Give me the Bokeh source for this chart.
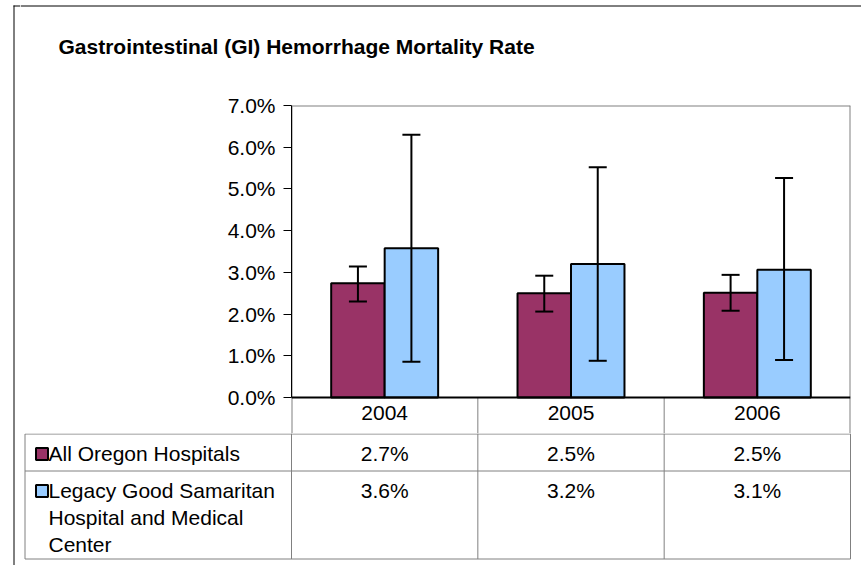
from bokeh.plotting import figure
from bokeh.layouts import row, column
from bokeh.models import Range1d, FactorRange, FixedTicker, NumeralTickFormatter, ColumnDataSource
from bokeh.transform import dodge
from bokeh.core.properties import value
from bokeh.embed import file_html
from bokeh.resources import INLINE

# ---------------- data ----------------
TITLE = "Gastrointestinal (GI) Hemorrhage Mortality Rate"
YEARS = ["2004", "2005", "2006"]
SERIES = ["All Oregon Hospitals", "Legacy Good Samaritan Hospital and Medical Center"]
SERIES_LINES = [["All Oregon Hospitals"],
                ["Legacy Good Samaritan", "Hospital and Medical", "Center"]]
OREGON_RATE = [0.0274, 0.0250, 0.0251]
OREGON_LOW = [0.0230, 0.0206, 0.0208]
OREGON_HIGH = [0.0314, 0.0292, 0.0294]
LEGACY_RATE = [0.0358, 0.0320, 0.0306]
LEGACY_LOW = [0.0086, 0.0088, 0.0090]
LEGACY_HIGH = [0.0630, 0.0552, 0.0526]
Y_TICKS = [0.0, 0.01, 0.02, 0.03, 0.04, 0.05, 0.06, 0.07]
SERIES_COLORS = ["#993366", "#99CCFF"]

# ---------------- layout (page pixels) ----------------
FONT = "Liberation Sans"
FS = "21px"
M = 0            # observed page offset
LW = 20          # narrow left strip holding the outer border
MW = 841         # main column width
X0 = M + LW      # left page x of main column
X1 = X0 + MW     # right page x of main column
TOP_A = 80       # top of chart figure
BASE = 397       # page y of the 0 % line
TOP_B = 433      # top of table figure (below the year header row)
BOTTOM = 565     # bottom of everything
FR_L, FR_R, FR_T = 291, 850, 105
BORDER_X, BORDER_Y = 13.5, 5.5
GRAY = "#808080"
YMAX = Y_TICKS[-1]
PX_PER_UNIT = (BASE - FR_T) / YMAX


def py(page_y):
    return (BASE - page_y) / PX_PER_UNIT


def blank(w, h, **kw):
    p = figure(width=w, height=h, output_backend="svg", toolbar_location=None,
               min_border=0, x_axis_location=None, y_axis_location=None, **kw)
    p.outline_line_color = None
    p.background_fill_color = "white"
    p.border_fill_color = "white"
    p.grid.visible = False
    p.frame_align = False
    return p


# ---- left strip: outer border ----
pl = blank(LW, BOTTOM - M, x_range=Range1d(M, X0), y_range=Range1d(BOTTOM, M))
pl.segment(x0=[BORDER_X], y0=[BORDER_Y - 0.5], x1=[BORDER_X], y1=[BOTTOM],
           line_color="black", line_width=1)
pl.segment(x0=[BORDER_X - 0.5], y0=[BORDER_Y], x1=[X0], y1=[BORDER_Y],
           line_color="black", line_width=1)

# ---- title band ----
pt = blank(MW, TOP_A - M, x_range=Range1d(X0, X1), y_range=Range1d(TOP_A, M))
pt.segment(x0=[X0], y0=[BORDER_Y], x1=[X1], y1=[BORDER_Y], line_color="black", line_width=1)
pt.text(x=[58], y=[46], text=[TITLE], text_font=value(FONT), text_font_style="bold",
        text_font_size=FS, text_color="black", text_align="left", text_baseline="middle")

# ---- chart (frame also holds the year header row) ----
pa = figure(width=MW, height=TOP_B - TOP_A, x_range=FactorRange(factors=YEARS),
            y_range=Range1d(py(TOP_B), YMAX), x_axis_location=None, output_backend="svg",
            toolbar_location=None, min_border_left=FR_L - X0, min_border_right=X1 - FR_R,
            min_border_top=FR_T - TOP_A, min_border_bottom=0)
pa.frame_align = False
pa.outline_line_color = None
pa.background_fill_color = "white"
pa.border_fill_color = "white"
pa.grid.visible = False

NCAT = len(YEARS)
# plot-area border (gray) and header-row separators
pa.hspan(y=[YMAX], line_color=GRAY, line_width=2)
pa.vspan(x=[0, NCAT], line_color=GRAY, line_width=2)
pa.segment(x0=list(range(1, NCAT)), y0=[0] * (NCAT - 1), x1=list(range(1, NCAT)),
           y1=[py(TOP_B)] * (NCAT - 1), line_color=GRAY, line_width=1)

src = ColumnDataSource(dict(year=YEARS, o=OREGON_RATE, olo=OREGON_LOW, ohi=OREGON_HIGH,
                            l=LEGACY_RATE, llo=LEGACY_LOW, lhi=LEGACY_HIGH))
BW = 0.287
specs = [("o", -BW / 2, SERIES_COLORS[0]), ("l", BW / 2, SERIES_COLORS[1])]
for key, off, color in specs:
    pa.vbar(x=dodge("year", off, range=pa.x_range), top=key, bottom=0, width=BW, source=src,
            fill_color=color, line_color="black", line_width=2)
for key, off, color in specs:
    xs = dodge("year", off, range=pa.x_range)
    pa.segment(x0=xs, y0=key + "lo", x1=xs, y1=key + "hi", source=src,
               line_color="black", line_width=2)
    for end in ("lo", "hi"):
        pa.scatter(x=xs, y=key + end, source=src, marker="dash", size=18,
                   line_color="black", line_width=2)
pa.segment(x0=[0], y0=[0], x1=[NCAT], y1=[0], line_color="black", line_width=2)

# year header labels
pa.text(x=YEARS, y=[py(412)] * NCAT, text=YEARS, text_align="center", text_baseline="middle",
        text_font=value(FONT), text_font_size=FS, text_color="black")

ya = pa.yaxis[0]
ya.ticker = FixedTicker(ticks=Y_TICKS)
ya.formatter = NumeralTickFormatter(format="0.0%")
ya.bounds = (0, YMAX)
ya.major_tick_out = 8
ya.major_tick_in = 0
ya.minor_tick_out = 0
ya.minor_tick_in = 0
ya.axis_line_color = "black"
ya.major_tick_line_color = "black"
ya.major_label_text_font = FONT
ya.major_label_text_font_size = FS
ya.major_label_text_color = "black"
ya.major_label_standoff = 8

# ---- data table ----
def cx(page_x):
    return (page_x - FR_L) * NCAT / (FR_R - FR_L)


pb = blank(MW, BOTTOM - TOP_B, x_range=Range1d(cx(X0), cx(X1)), y_range=Range1d(BOTTOM, TOP_B))
ROW1, ROW2, TBOT, TLEFT = 433.5, 470.5, 558.5, 24.5
pb.segment(x0=[cx(TLEFT)] * 3, y0=[ROW1, ROW2, TBOT], x1=[NCAT] * 3, y1=[ROW1, ROW2, TBOT],
           line_color=GRAY, line_width=1)
pb.segment(x0=[cx(TLEFT)], y0=[ROW1], x1=[cx(TLEFT)], y1=[TBOT], line_color=GRAY, line_width=1)
pb.segment(x0=list(range(NCAT + 1)), y0=[TOP_B] * (NCAT + 1), x1=list(range(NCAT + 1)),
           y1=[TBOT] * (NCAT + 1), line_color=GRAY, line_width=1)

centers = [i + 0.5 for i in range(NCAT)]
txt = dict(text_font=value(FONT), text_font_size=FS, text_color="black",
           text_baseline="middle")
for rates, ymid in ((OREGON_RATE, 453), (LEGACY_RATE, 490)):
    pb.text(x=centers, y=[ymid] * NCAT, text=[f"{v * 100:.1f}%" for v in rates],
            text_align="center", **txt)

label_rows = [453, 490]
for lines, ymid in zip(SERIES_LINES, label_rows):
    pb.text(x=[cx(48)] * len(lines), y=[ymid + 27 * k for k in range(len(lines))],
            text=lines, text_align="left", **txt)
pb.scatter(x=[cx(41.5)] * 2, y=[453.5, 490.5], marker="square", size=12,
           fill_color=SERIES_COLORS, line_color="black", line_width=2)

layout = row(pl, column(pt, pa, pb))
open("out.html", "w").write(file_html(layout, INLINE, title=TITLE))
